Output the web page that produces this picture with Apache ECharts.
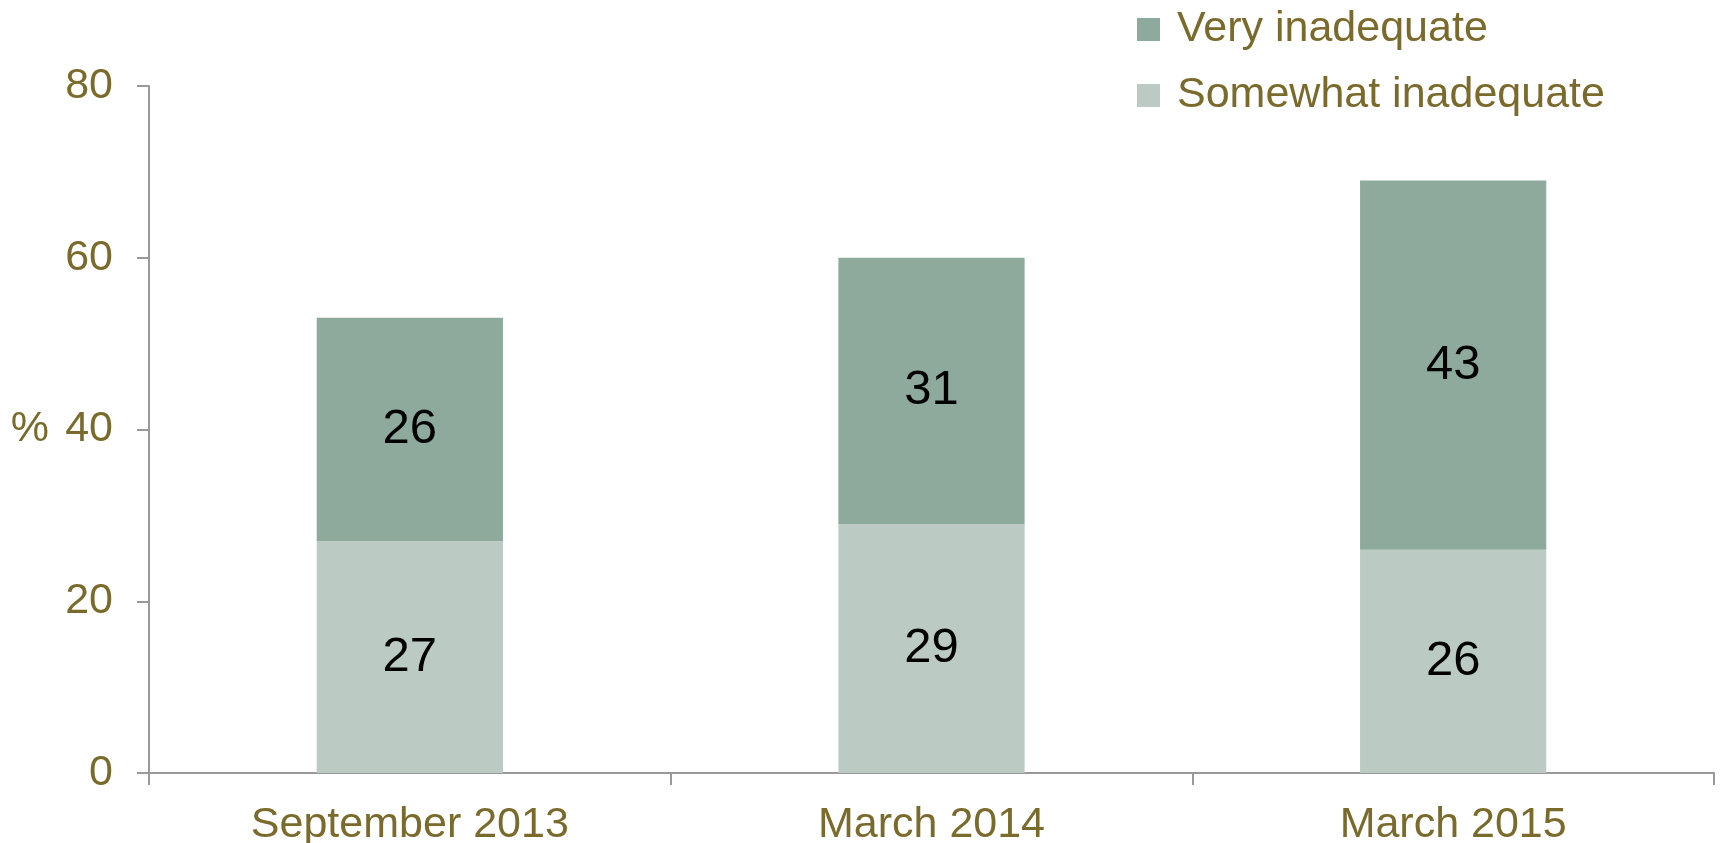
<!DOCTYPE html>
<html>
<head>
<meta charset="UTF-8">
<title></title>
<script type="text/javascript" src="https://cdn.jsdelivr.net/npm/echarts@6/dist/echarts.min.js"></script>
<style>
html, body { margin: 0; padding: 0; background: #fff; }
#main { width: 1720px; height: 843px; }
</style>
</head>
<body>
<div id="main"></div>
<script type="text/javascript">
var categories = ['September 2013', 'March 2014', 'March 2015'];
var somewhatInadequate = [27, 29, 26];
var veryInadequate = [26, 31, 43];
var yTicks = [0, 20, 40, 60, 80];

var textColor = '#7a6a2b';
var font = '"Liberation Sans", Arial, sans-serif';

var myChart = echarts.init(document.getElementById('main'));

var option = {
    animation: false,
    backgroundColor: '#fff',
    textStyle: { fontFamily: font },
    grid: { left: 149, right: 6, top: 86, bottom: 70, containLabel: false, outerBoundsMode: 'none' },
    legend: {
        orient: 'vertical',
        left: 1132,
        top: 2,
        itemWidth: 23,
        itemHeight: 23,
        itemGap: 21,
        icon: 'rect',
        data: ['Very inadequate', 'Somewhat inadequate'],
        textStyle: { color: textColor, fontSize: 43, fontFamily: font, lineHeight: 45, padding: [0, 0, 0, 12] }
    },
    xAxis: {
        type: 'category',
        data: categories,
        axisLine: { lineStyle: { color: '#999', width: 2 } },
        axisTick: { show: true, length: 12, lineStyle: { color: '#999', width: 2 } },
        axisLabel: { color: textColor, fontSize: 43, fontFamily: font, margin: 31 }
    },
    yAxis: {
        type: 'value',
        min: yTicks[0],
        max: yTicks[yTicks.length - 1],
        interval: 20,
        name: '%',
        nameLocation: 'middle',
        nameRotate: 0,
        nameGap: 100,
        nameTextStyle: { color: textColor, fontSize: 43, fontFamily: font },
        axisLine: { show: true, lineStyle: { color: '#999', width: 2 } },
        axisTick: { show: true, length: 12, lineStyle: { color: '#999', width: 2 } },
        splitLine: { show: false },
        axisLabel: { color: textColor, fontSize: 43, fontFamily: font, margin: 36 }
    },
    series: [
        {
            name: 'Somewhat inadequate',
            type: 'bar',
            stack: 'total',
            barWidth: '35.7%',
            data: somewhatInadequate,
            itemStyle: { color: '#bbcbc4' },
            label: { show: true, position: 'inside', color: '#000', fontSize: 49, fontFamily: font }
        },
        {
            name: 'Very inadequate',
            type: 'bar',
            stack: 'total',
            barWidth: '35.7%',
            data: veryInadequate,
            itemStyle: { color: '#8eaa9d' },
            label: { show: true, position: 'inside', color: '#000', fontSize: 49, fontFamily: font }
        }
    ]
};

myChart.setOption(option);
</script>
</body>
</html>
